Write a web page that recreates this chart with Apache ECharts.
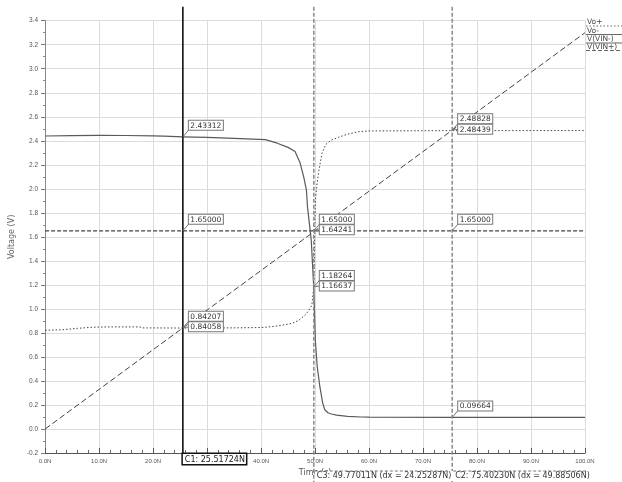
<!DOCTYPE html>
<html>
<head>
<meta charset="utf-8">
<script src="https://cdn.jsdelivr.net/npm/echarts@6/dist/echarts.min.js"></script>
<style>
  html, body { margin: 0; padding: 0; background: #fff; }
  #chart { width: 622px; height: 482px; }
</style>
</head>
<body>
<div id="chart"></div>
<script>
// Transient simulation of the comparator: time in ns, voltages in V
const voPlusT = [0, 5, 10, 15, 20, 22, 25.51724, 30, 35, 40.8, 43, 45, 46.3, 47.2, 47.9, 48.4, 48.6, 48.95, 49.3, 49.77011, 50.05, 50.4, 50.9, 51.4, 51.8, 52.4, 53, 54, 56, 58.6, 60, 75.4023, 100];
const voPlusV = [2.440, 2.443, 2.445, 2.444, 2.441, 2.438, 2.43312, 2.428, 2.420, 2.410, 2.380, 2.345, 2.310, 2.220, 2.100, 1.990, 1.850, 1.710, 1.570, 1.16637, 0.740, 0.520, 0.350, 0.220, 0.160, 0.135, 0.125, 0.115, 0.105, 0.100, 0.098, 0.09664, 0.0966];

const voMinusT = [0, 3, 6, 9, 12, 17.5, 18, 25.51724, 30, 35, 40, 42, 44, 45.8, 47, 48.2, 48.9, 49.4, 49.77011, 50.05, 50.4, 50.7, 51.3, 52, 53, 54.4, 56, 58, 60, 75.4023, 100];
const voMinusV = [0.822, 0.826, 0.838, 0.848, 0.850, 0.850, 0.842, 0.84058, 0.841, 0.842, 0.845, 0.852, 0.865, 0.880, 0.905, 0.950, 0.990, 1.030, 1.18264, 1.900, 2.050, 2.150, 2.300, 2.370, 2.405, 2.430, 2.455, 2.475, 2.482, 2.48439, 2.485];

const vinMinusT = [0, 100];
const vinMinusV = [1.65, 1.65];

const vinPlusT = [0, 25.51724, 49.77011, 75.4023, 100];
const vinPlusV = [0, 0.84207, 1.64241, 2.48828, 3.3];

const seriesNames = ['Vo+', 'Vo-', 'V(VIN-)', 'V(VIN+)'];

// Cursors and their readouts (Vo+, Vo-, V(VIN-), V(VIN+))
const cursorNames = ['C1', 'C3', 'C2'];
const cursorTimes = [25.51724, 49.77011, 75.40230];
const cursorReadouts = [
  [2.43312, 0.84058, 1.65000, 0.84207],
  [1.16637, 1.18264, 1.65000, 1.64241],
  [0.09664, 2.48439, 1.65000, 2.48828]
];

const zip = (t, v) => t.map((x, i) => [x, v[i]]);

const chart = echarts.init(document.getElementById('chart'), null, { renderer: 'canvas' });
const tickFont = 'Liberation Sans';

chart.setOption({
  animation: false,
  backgroundColor: '#fff',
  grid: { left: 41, right: 37, top: 20.7, bottom: 29 },
  xAxis: {
    type: 'value', min: 0, max: 100, interval: 10,
    name: 'Time (s)', nameLocation: 'middle', nameGap: 13,
    nameTextStyle: { fontFamily: 'DejaVu Sans', fontSize: 8, color: '#555' },
    axisLine: { onZero: false, lineStyle: { color: '#555', width: 1 } },
    axisTick: { inside: true, length: 5, lineStyle: { color: '#555' } },
    minorTick: { show: true, splitNumber: 5, length: 3, lineStyle: { color: '#666' } },
    axisLabel: { fontFamily: tickFont, fontSize: 6, color: '#555', margin: 5,
      formatter: v => v.toFixed(1) + 'N' },
    splitLine: { show: true, lineStyle: { color: '#dcdcdc', width: 1 } }
  },
  yAxis: {
    type: 'value', min: -0.2, max: 3.4, interval: 0.2,
    name: 'Voltage (V)', nameLocation: 'middle', nameGap: 26,
    nameTextStyle: { fontFamily: 'DejaVu Sans', fontSize: 8, color: '#666' },
    axisLine: { show: true, lineStyle: { color: '#888', width: 1 } },
    axisTick: { inside: false, length: 4, lineStyle: { color: '#777' } },
    minorTick: { show: true, splitNumber: 2, length: 2, lineStyle: { color: '#888' } },
    axisLabel: { fontFamily: tickFont, fontSize: 6.5, color: '#555', margin: 7,
      formatter: v => v.toFixed(1) },
    splitLine: { show: true, lineStyle: { color: '#dcdcdc', width: 1 } }
  },
  series: [
    { name: seriesNames[0], type: 'line', showSymbol: false, data: zip(voPlusT, voPlusV),
      lineStyle: { color: '#5a5a5a', width: 1.2, type: 'solid' }, z: 3 },
    { name: seriesNames[1], type: 'line', showSymbol: false, data: zip(voMinusT, voMinusV),
      lineStyle: { color: '#444', width: 1, type: [1.5, 2] }, z: 3 },
    { name: seriesNames[2], type: 'line', showSymbol: false, data: zip(vinMinusT, vinMinusV),
      lineStyle: { color: '#444', width: 1.1, type: [4, 2] }, z: 3 },
    { name: seriesNames[3], type: 'line', showSymbol: false, data: zip(vinPlusT, vinPlusV),
      lineStyle: { color: '#444', width: 1, type: [6, 3] }, z: 3 }
  ]
});

// Cursor lines, readout boxes and the legend are laid out from the axis scales
function buildOverlay() {
  const px = (t, v) => chart.convertToPixel({ gridIndex: 0 }, [t, v]);
  const els = [];
  const boxFont = '7.5px "DejaVu Sans"';
  const [, yTop] = px(0, 3.4);
  const [, yBottom] = px(0, -0.2);

  cursorTimes.forEach((ct, i) => {
    const [cx] = px(ct, 0);
    if (i === 0) {
      els.push({ type: 'line', shape: { x1: cx, y1: yTop - 14, x2: cx, y2: yBottom + 1 },
        style: { stroke: '#111', lineWidth: 1.6 }, z: 20 });
      els.push({ type: 'text', x: cx, y: yBottom + 1, z: 21,
        style: { text: cursorNames[i] + ': ' + ct.toFixed(5) + 'N', font: '8px "DejaVu Sans"', fill: '#222',
          backgroundColor: '#fff', borderColor: '#111', borderWidth: 1.5, padding: [1.5, 1, 0.5, 2],
          align: 'left', verticalAlign: 'top' } });
    } else {
      els.push({ type: 'line', shape: { x1: cx, y1: yTop - 14, x2: cx, y2: 482 },
        style: { stroke: '#8a8a8a', lineWidth: 1.5, lineDash: [4, 2] }, z: 20 });
      const txt = cursorNames[i] + ': ' + ct.toFixed(5) + 'N (dx = ' + (ct - cursorTimes[0]).toFixed(5) + 'N)';
      els.push({ type: 'text', x: cx + 1, y: yBottom + 18, z: 21,
        style: { text: txt, font: '8px "DejaVu Sans"', fill: '#333',
          backgroundColor: '#fff', padding: [1, 2, 1, 2], align: 'left', verticalAlign: 'top' } });
      els.push({ type: 'line', shape: { x1: cx + 1, y1: yBottom + 18, x2: cx + 136, y2: yBottom + 18 },
        style: { stroke: '#777', lineWidth: 1, lineDash: [3, 2] }, z: 22 });
    }

    // readout boxes; values that sit close together are stacked
    const vals = cursorReadouts[i].slice().sort((a, b) => b - a);
    const groups = [];
    vals.forEach(v => {
      const y = px(ct, v)[1];
      const g = groups[groups.length - 1];
      if (g && Math.abs(y - g.y) < 12) g.vals.push(v);
      else groups.push({ y, vals: [v] });
    });
    groups.forEach(g => {
      const top0 = g.y - 16;
      g.vals.forEach((v, k) => {
        const top = top0 + k * 10.5;
        const ly = k === 0 ? top + 9 : top + 4.5;
        els.push({ type: 'line', shape: { x1: cx, y1: g.y, x2: cx + 6, y2: ly },
          style: { stroke: '#777', lineWidth: 1 }, z: 22 });
        els.push({ type: 'text', x: cx + 6, y: top, z: 23,
          style: { text: v.toFixed(5), font: boxFont, fill: '#333', backgroundColor: '#fff',
            borderColor: '#777', borderWidth: 1, padding: [1, 1.5, 0, 1.5],
            align: 'left', verticalAlign: 'top' } });
      });
    });
  });

  // legend in the top-right corner: name with a sample line underneath
  const legendX = 586;
  const legendRows = [
    { y: 18.5, dash: [1.5, 2] },
    { y: 27, dash: null },
    { y: 35.5, dash: null },
    { y: 43, dash: [4, 2] }
  ];
  seriesNames.forEach((n, k) => {
    const r = legendRows[k];
    els.push({ type: 'text', x: legendX + 1, y: r.y, z: 30,
      style: { text: n, font: '7.5px "DejaVu Sans"', fill: '#444', align: 'left', verticalAlign: 'top' } });
    els.push({ type: 'line', shape: { x1: legendX, y1: r.y + 7.5, x2: 622, y2: r.y + 7.5 },
      style: { stroke: '#666', lineWidth: 1, lineDash: r.dash || null }, z: 30 });
  });

  chart.setOption({ graphic: { elements: els } });
}
buildOverlay();
</script>
</body>
</html>
